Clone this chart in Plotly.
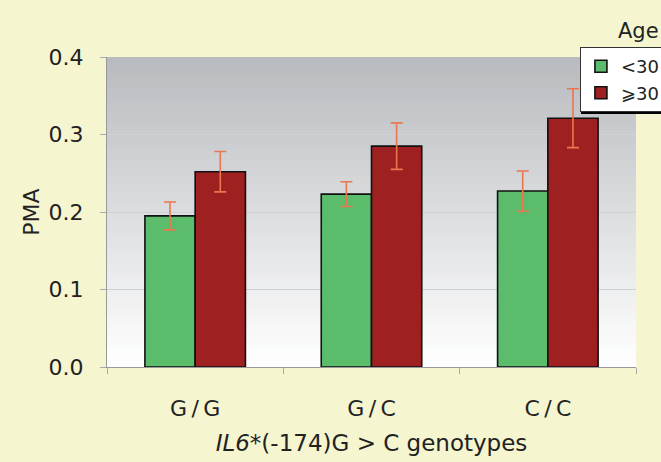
import plotly.graph_objects as go

categories = ["G/G", "G/C", "C/C"]
tick_labels = ["G\u2009/\u2009G", "G\u2009/\u2009C", "C\u2009/\u2009C"]
young_vals = [0.195, 0.223, 0.227]
young_err = [0.018, 0.016, 0.026]
old_vals = [0.252, 0.285, 0.321]
old_err = [0.026, 0.030, 0.038]
series_names = ["<30", "⩾30"]
y_ticks = [0.0, 0.1, 0.2, 0.3, 0.4]

FONT = "'DejaVu Sans', sans-serif"
GREEN = "#5bbd6c"
RED = "#9f2020"
ERR = "#e9774f"
TXT = "#222222"

fig = go.Figure()
fig.add_trace(go.Bar(
    x=categories, y=young_vals, name=series_names[0],
    marker=dict(color=GREEN, line=dict(color="#111111", width=1.6)),
    error_y=dict(type="data", array=young_err, color=ERR, thickness=1.6, width=6),
))
fig.add_trace(go.Bar(
    x=categories, y=old_vals, name=series_names[1],
    marker=dict(color=RED, line=dict(color="#111111", width=1.6)),
    error_y=dict(type="data", array=old_err, color=ERR, thickness=1.6, width=6),
))

# vertical gradient background of plot area (gray top -> white bottom)
shapes = []
n = 60
top = (184, 187, 191)
bot = (255, 255, 255)
for i in range(n):
    t = i / (n - 1)
    c = tuple(int(round(top[k] + (bot[k] - top[k]) * t)) for k in range(3))
    shapes.append(dict(type="rect", xref="paper", yref="paper",
                       x0=0, x1=1, y0=max(0, 1 - (i + 1) / n - 0.004), y1=1 - i / n,
                       fillcolor="rgb(%d,%d,%d)" % c, line=dict(width=0),
                       layer="below"))
# legend shadow line
shapes.append(dict(type="line", xref="paper", yref="paper",
                   x0=0.896, x1=1.2, y0=0.822, y1=0.822,
                   line=dict(color="black", width=3.5), layer="above"))

fig.update_layout(
    width=661, height=462,
    margin=dict(l=107, r=25, t=57, b=95, autoexpand=False),
    paper_bgcolor="#f5f5d0",
    plot_bgcolor="white",
    font=dict(family=FONT, size=22, color=TXT),
    barmode="group",
    bargap=0.43,
    bargroupgap=0,
    shapes=shapes,
    showlegend=True,
    legend=dict(x=0.894, y=1.032, xanchor="left", yanchor="top",
                bgcolor="white", bordercolor="#333333", borderwidth=1,
                font=dict(size=18, family=FONT, color=TXT),
                itemwidth=30, tracegroupgap=0),
    annotations=[dict(text="Age", xref="paper", yref="paper",
                      x=0.962, y=1.04, xanchor="left", yanchor="bottom",
                      showarrow=False, font=dict(size=21, family=FONT, color=TXT))],
)
fig.update_xaxes(
    type="category", range=[-0.5, 2.5],
    tickvals=categories, ticktext=tick_labels,
    showline=True, linecolor="#999999", linewidth=1,
    ticks="outside", tickson="boundaries", ticklen=6, tickcolor="#aaaaaa",
    ticklabelstandoff=22,
    showgrid=False,
    tickfont=dict(size=22, family=FONT, color=TXT),
    title=dict(text="<i>IL6</i>*(-174)G > C genotypes", standoff=14,
               font=dict(size=23, family=FONT, color=TXT)),
)
fig.update_yaxes(
    range=[0, 0.4], tickvals=y_ticks, tickformat=".1f",
    showline=True, linecolor="#999999", linewidth=1,
    ticks="outside", ticklen=6, tickcolor="#aaaaaa",
    ticklabelstandoff=12,
    showgrid=True, gridcolor="#cfd1d4", gridwidth=1,
    zeroline=False,
    tickfont=dict(size=22, family=FONT, color=TXT),
    title=dict(text="PMA", standoff=2, font=dict(size=22, family=FONT, color=TXT)),
)

fig.write_html("out.html", config={"displayModeBar": False},
               post_script="document.body.style.margin='0';document.body.style.padding='0';"
                           "document.body.style.background='#f5f5d0';")
